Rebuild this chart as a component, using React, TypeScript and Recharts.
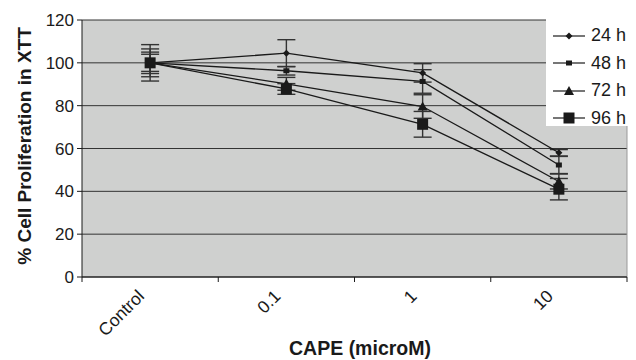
import {
  CartesianGrid,
  ErrorBar,
  Label,
  Legend,
  Line,
  LineChart,
  ReferenceLine,
  XAxis,
  YAxis,
} from "recharts";

const doses = ["Control", "0.1", "1", "10"];

const h24 = [100, 104.5, 95.3, 58];
const h48 = [100, 96.3, 91.3, 52.3];
const h72 = [100, 90.2, 79.6, 44.6];
const h96 = [100, 87.8, 71.3, 41];

const err24 = [8.5, 6.3, 4.3, 1.5];
const err48 = [6.5, 2, 5.5, 4];
const err72 = [5, 3, 5.5, 3.5];
const err96 = [4, 2.5, 6, 5];

const yTicks = [0, 20, 40, 60, 80, 100, 120];

const FONT = "'Liberation Sans', Arial, sans-serif";
const INK = "#1a1a1a";

// points sit in the middle of each category band, tick marks on the band edges
const rows = doses.map((dose, i) => ({
  x: i + 0.5,
  dose,
  h24: h24[i],
  h48: h48[i],
  h72: h72[i],
  h96: h96[i],
  e24: err24[i],
  e48: err48[i],
  e72: err72[i],
  e96: err96[i],
}));

type Shape = "diamond" | "dash" | "triangle" | "square";

const series: { key: string; err: string; name: string; shape: Shape }[] = [
  { key: "h24", err: "e24", name: "24 h", shape: "diamond" },
  { key: "h48", err: "e48", name: "48 h", shape: "dash" },
  { key: "h72", err: "e72", name: "72 h", shape: "triangle" },
  { key: "h96", err: "e96", name: "96 h", shape: "square" },
];

const Marker = ({ cx, cy, shape }: { cx: number; cy: number; shape: Shape }) => {
  if (shape === "diamond") {
    return (
      <polygon
        points={`${cx},${cy - 3.5} ${cx + 3.5},${cy} ${cx},${cy + 3.5} ${cx - 3.5},${cy}`}
        fill={INK}
      />
    );
  }
  if (shape === "dash") {
    return <rect x={cx - 3} y={cy - 2.5} width={6} height={5} fill={INK} />;
  }
  if (shape === "triangle") {
    return (
      <polygon
        points={`${cx},${cy - 5} ${cx + 5},${cy + 4} ${cx - 5},${cy + 4}`}
        fill={INK}
      />
    );
  }
  return <rect x={cx - 5.5} y={cy - 5.5} width={11} height={11} fill={INK} />;
};

const XTick = ({ x, y, payload }: any) => {
  const v = payload.value as number;
  if (Number.isInteger(v)) {
    // band edge: tick mark only
    return <line x1={x} x2={x} y1={y - 5} y2={y} stroke={INK} strokeWidth={1} />;
  }
  const label = doses[Math.floor(v)];
  const ax = x - 9;
  const ay = y + 11;
  return (
    <text
      x={ax}
      y={ay}
      transform={`rotate(-45, ${ax}, ${ay})`}
      textAnchor="end"
      dominantBaseline="central"
      fontSize={17.5}
      fontFamily={FONT}
      fill={INK}
    >
      {label}
    </text>
  );
};

const renderLegend = () => (
  <div
    style={{
      background: "#fff",
      width: 84,
      height: 108,
      boxSizing: "border-box",
      paddingTop: 4,
      fontFamily: FONT,
    }}
  >
    {series.map((s) => (
      <div
        key={s.key}
        style={{ display: "flex", alignItems: "center", height: 27.5 }}
      >
        <svg width={40} height={14} style={{ marginLeft: 5 }}>
          <line x1={2} x2={34} y1={7} y2={7} stroke={INK} strokeWidth={1.2} />
          <Marker cx={18} cy={7} shape={s.shape} />
        </svg>
        <span style={{ fontSize: 18, color: INK }}>{s.name}</span>
      </div>
    ))}
  </div>
);

export default function App() {
  return (
    <div style={{ position: "absolute", left: 0, top: 0, width: 636, height: 360, background: "#fff" }}>
      <LineChart
        width={636}
        height={360}
        data={rows}
        margin={{ top: 20, right: 9, left: 0, bottom: 0 }}
      >
        <CartesianGrid
          vertical={false}
          stroke="#333"
          strokeWidth={1}
          fill="#cfd0cf"
          fillOpacity={1}
        />
        <ReferenceLine x={4} stroke="#999" strokeWidth={1} />
        <XAxis
          dataKey="x"
          type="number"
          domain={[0, 4]}
          ticks={[0, 0.5, 1, 1.5, 2, 2.5, 3, 3.5, 4]}
          interval={0}
          tickLine={false}
          tickSize={5}
          tickMargin={0}
          height={83}
          axisLine={{ stroke: INK, strokeWidth: 1 }}
          tick={<XTick />}
        >
          <Label
            content={() => (
              <text
                x={360}
                y={355}
                textAnchor="middle"
                fontSize={19.5}
                fontWeight="bold"
                fontFamily={FONT}
                fill={INK}
              >
                CAPE (microM)
              </text>
            )}
          />
        </XAxis>
        <YAxis
          domain={[0, 120]}
          ticks={yTicks}
          interval={0}
          width={82}
          tickSize={5}
          tickMargin={3}
          axisLine={{ stroke: INK, strokeWidth: 1 }}
          tickLine={{ stroke: INK }}
          tick={{ fill: INK, fontSize: 17, fontFamily: FONT }}
        >
          <Label
            content={() => (
              <text
                x={24}
                y={146}
                transform="rotate(-90, 24, 146)"
                textAnchor="middle"
                dominantBaseline="central"
                fontSize={19}
                fontWeight="bold"
                fontFamily={FONT}
                fill={INK}
              >
                % Cell Proliferation in XTT
              </text>
            )}
          />
        </YAxis>
        <Legend
          layout="vertical"
          align="center"
          verticalAlign="middle"
          content={renderLegend}
          wrapperStyle={{ left: 546, top: 18, width: 84, height: 108 }}
        />
        {series.map((s) => (
          <Line
            key={s.key}
            dataKey={s.key}
            name={s.name}
            stroke={INK}
            strokeWidth={1.3}
            isAnimationActive={false}
            dot={(p: any) => (
              <Marker key={`${s.key}-${p.index}`} cx={p.cx} cy={p.cy} shape={s.shape} />
            )}
            activeDot={false}
          >
            <ErrorBar
              dataKey={s.err}
              direction="y"
              width={9}
              stroke="#333"
              strokeWidth={1.4}
              isAnimationActive={false}
            />
          </Line>
        ))}
      </LineChart>
    </div>
  );
}
